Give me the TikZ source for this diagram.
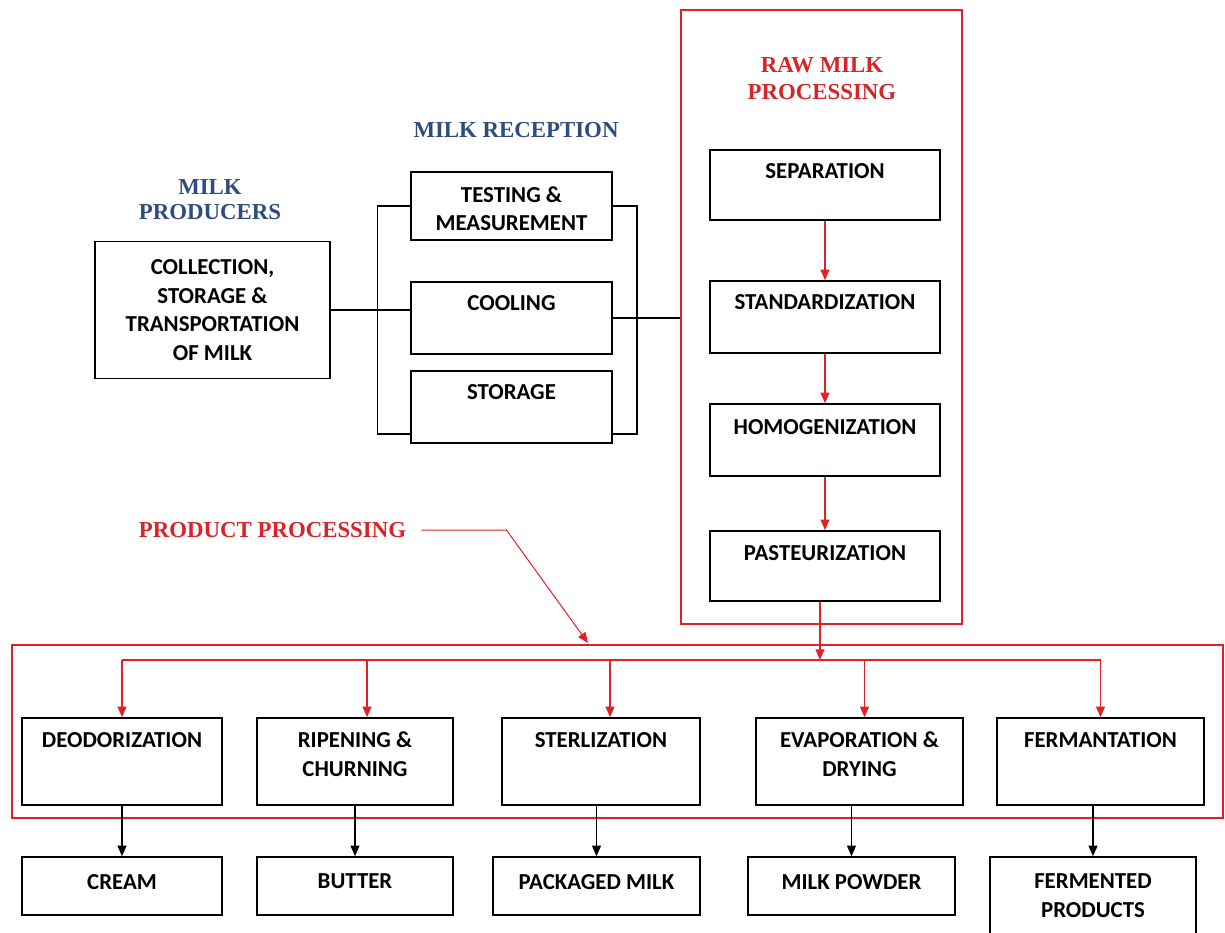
\documentclass[tikz,border=0pt]{standalone}
\usepackage{fontspec}
\usetikzlibrary{arrows.meta}
\newfontfamily\boxfont{Carlito}
\newfontfamily\titlefont{Liberation Serif}
\definecolor{linered}{RGB}{226,32,38}
\definecolor{titlered}{RGB}{214,36,40}
\definecolor{titleblue}{RGB}{47,76,126}

\begin{document}
\begin{tikzpicture}[
    box/.style={draw, line width = 0.3mm, inner sep=0pt},
    redframe/.style={draw=linered, line width = 0.3mm, inner sep=0pt},
    boxtxt/.style={font=\boxfont\bfseries\fontsize{13}{16}\selectfont, align=center, anchor=north, inner sep=0pt},
    ttl/.style={font=\titlefont\bfseries\fontsize{13}{14.5}\selectfont, align=center, inner sep=0pt},
    link/.style={line width = 0.3mm},
    blkarr/.style={line width = 0.3mm, -{Triangle[width=5pt,length=6pt]}},
    redarr/.style={draw=linered, line width = 0.3mm, -{Triangle[width=5pt,length=6pt]}}
]
    \useasboundingbox (0,0) rectangle (24.5,-18.64);

    % red frames
    \node[redframe, minimum width=5.62cm, minimum height=12.28cm] (rawframe) at (16.43,-6.34) {};
    \node[redframe, minimum width=24.22cm, minimum height=3.46cm] (prodframe) at (12.35,-14.63) {};

    % titles
    \node[ttl, text=titleblue] (prodtitle) at (4.2,-3.99) {MILK\\PRODUCERS};
    \node[ttl, text=titleblue] (recvtitle) at (10.32,-2.6) {MILK RECEPTION};
    \node[ttl, text=titlered, font=\titlefont\bfseries\fontsize{13}{15.5}\selectfont] (rawtitle) at (16.44,-1.57) {RAW MILK\\PROCESSING};
    \node[ttl, text=titlered] (pptitle) at (5.45,-10.6) {PRODUCT PROCESSING};

    % milk producers and reception
    \node[box, minimum width=4.7cm, minimum height=2.74cm, align=center, font=\boxfont\bfseries\fontsize{13}{16.4}\selectfont] (coll) at (4.25,-6.2) {COLLECTION,\\STORAGE \&\\TRANSPORTATION\\OF MILK};
    \node[box, minimum width=4.02cm, minimum height=1.36cm, label={[boxtxt, yshift=-0.31cm]north:{TESTING \&\\MEASUREMENT}}] (test) at (10.23,-4.12) {};
    \node[box, minimum width=4.02cm, minimum height=1.44cm, label={[boxtxt, yshift=-0.27cm]north:COOLING}] (cool) at (10.23,-6.36) {};
    \node[box, minimum width=4.02cm, minimum height=1.44cm, label={[boxtxt, yshift=-0.27cm]north:STORAGE}] (stor) at (10.23,-8.14) {};

    % raw milk processing
    \node[box, minimum width=4.6cm, minimum height=1.4cm, label={[boxtxt, yshift=-0.27cm]north:SEPARATION}] (sep) at (16.5,-3.7) {};
    \node[box, minimum width=4.6cm, minimum height=1.44cm, label={[boxtxt, yshift=-0.27cm]north:STANDARDIZATION}] (std) at (16.5,-6.34) {};
    \node[box, minimum width=4.6cm, minimum height=1.44cm, label={[boxtxt, yshift=-0.31cm]north:HOMOGENIZATION}] (hom) at (16.5,-8.8) {};
    \node[box, minimum width=4.6cm, minimum height=1.4cm, label={[boxtxt, yshift=-0.29cm]north:PASTEURIZATION}] (pas) at (16.5,-11.32) {};

    % product processing
    \node[box, minimum width=4.0cm, minimum height=1.74cm, label={[boxtxt, yshift=-0.29cm]north:DEODORIZATION}] (deod) at (2.44,-15.23) {};
    \node[box, minimum width=3.92cm, minimum height=1.74cm, label={[boxtxt, yshift=-0.29cm]north:{RIPENING \&\\CHURNING}}] (ripe) at (7.1,-15.23) {};
    \node[box, minimum width=3.96cm, minimum height=1.74cm, label={[boxtxt, yshift=-0.29cm]north:STERLIZATION}] (ster) at (12.02,-15.23) {};
    \node[box, minimum width=4.14cm, minimum height=1.74cm, label={[boxtxt, yshift=-0.29cm]north:{EVAPORATION \&\\DRYING}}] (evap) at (17.19,-15.23) {};
    \node[box, minimum width=4.14cm, minimum height=1.74cm, label={[boxtxt, yshift=-0.29cm]north:FERMANTATION}] (ferm) at (22.01,-15.23) {};

    % products
    \node[box, minimum width=4.0cm, minimum height=1.16cm, label={[boxtxt, yshift=-0.35cm]north:CREAM}] (cream) at (2.44,-17.72) {};
    \node[box, minimum width=3.92cm, minimum height=1.16cm, label={[boxtxt, yshift=-0.35cm]north:BUTTER}] (butter) at (7.1,-17.72) {};
    \node[box, minimum width=4.14cm, minimum height=1.16cm, label={[boxtxt, yshift=-0.35cm]north:PACKAGED MILK}] (pack) at (11.93,-17.72) {};
    \node[box, minimum width=4.14cm, minimum height=1.16cm, label={[boxtxt, yshift=-0.35cm]north:MILK POWDER}] (powder) at (17.03,-17.72) {};
    \node[box, minimum width=4.12cm, minimum height=1.66cm, label={[boxtxt, yshift=-0.35cm]north:{FERMENTED\\PRODUCTS}}] (fermp) at (21.86,-17.97) {};

    % reception links
    \draw[link] (coll.east) -- (coll.east -| cool.west);
    \draw[link] (test.west) -- ++(-0.66,0) |- ([yshift=0.2cm]stor.south west);
    \draw[link] (test.east) -- ++(0.48,0) |- ([yshift=0.2cm]stor.south east);
    \draw[link] (cool.east) -- (cool.east -| rawframe.west);

    % raw milk chain
    \draw[redarr] (sep.south) -- (std.north);
    \draw[redarr] (std.south) -- (hom.north);
    \draw[redarr] (hom.south) -- (pas.north);
    \coordinate (branch) at (16.4,-13.2);
    \draw[redarr] (pas.south -| branch) -- (branch);
    \draw[draw=linered, line width = 0.3mm] (deod.north |- branch) -- (ferm.north |- branch);
    \draw[redarr] (deod.north |- branch) -- (deod.north);
    \draw[redarr] ([xshift=0.24cm]ripe.north |- branch) -- ([xshift=0.24cm]ripe.north);
    \draw[redarr] ([xshift=0.18cm]ster.north |- branch) -- ([xshift=0.18cm]ster.north);
    \draw[redarr] ([xshift=0.1cm]evap.north |- branch) -- ([xshift=0.1cm]evap.north);
    \draw[redarr] (ferm.north |- branch) -- (ferm.north);

    % product processing pointer
    \coordinate (pptip) at (11.76,-12.86);
    \draw[draw=linered, line width = 0.2mm, -{Triangle[width=5pt,length=6pt]}] ([xshift=0.3cm]pptitle.east) -- ++(1.7,0) -- (pptip);

    % products
    \draw[blkarr] (deod.south) -- (cream.north);
    \draw[blkarr] (ripe.south -| butter.north) -- (butter.north);
    \draw[blkarr] (ster.south -| pack.north) -- (pack.north);
    \draw[blkarr] (evap.south -| powder.north) -- (powder.north);
    \draw[blkarr] (ferm.south -| fermp.north) -- (fermp.north);

\end{tikzpicture}
\end{document}
